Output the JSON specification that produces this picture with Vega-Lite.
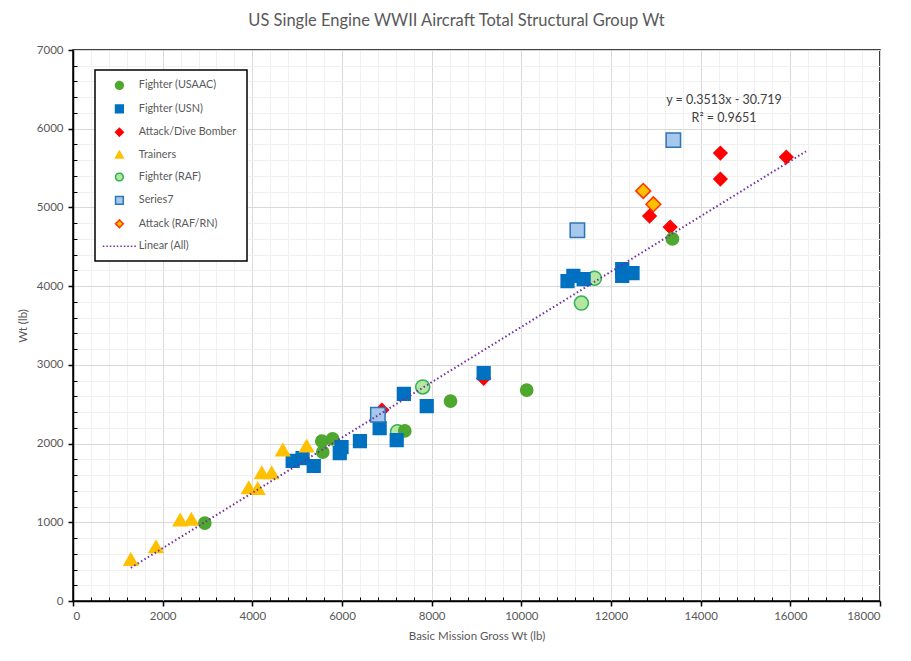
{
  "$schema": "https://vega.github.io/schema/vega-lite/v6.json",
  "width": 807,
  "height": 551,
  "autosize": "none",
  "padding": {"left": 73, "top": 50, "right": 31, "bottom": 60},
  "background": "white",
  "title": {
    "text": "US Single Engine WWII Aircraft Total Structural Group Wt",
    "font": "Lato",
    "fontSize": 16.5,
    "fontWeight": "normal",
    "color": "#595959",
    "anchor": "middle",
    "dx": -20,
    "offset": 15
  },
  "datasets": {
    "pts": [
      {"series": "Fighter (USAAC)", "x": 2940, "y": 990},
      {"series": "Fighter (USAAC)", "x": 5550, "y": 2030},
      {"series": "Fighter (USAAC)", "x": 5790, "y": 2060},
      {"series": "Fighter (USAAC)", "x": 5570, "y": 1890},
      {"series": "Fighter (USAAC)", "x": 7400, "y": 2160},
      {"series": "Fighter (USAAC)", "x": 8420, "y": 2540},
      {"series": "Fighter (USAAC)", "x": 10120, "y": 2680},
      {"series": "Fighter (USAAC)", "x": 13370, "y": 4600},
      {"series": "Fighter (USN)", "x": 4900, "y": 1780},
      {"series": "Fighter (USN)", "x": 5120, "y": 1815},
      {"series": "Fighter (USN)", "x": 5370, "y": 1715},
      {"series": "Fighter (USN)", "x": 5990, "y": 1955},
      {"series": "Fighter (USN)", "x": 5950, "y": 1880},
      {"series": "Fighter (USN)", "x": 6400, "y": 2030},
      {"series": "Fighter (USN)", "x": 6840, "y": 2195},
      {"series": "Fighter (USN)", "x": 7220, "y": 2045},
      {"series": "Fighter (USN)", "x": 7380, "y": 2630},
      {"series": "Fighter (USN)", "x": 7890, "y": 2475},
      {"series": "Fighter (USN)", "x": 9160, "y": 2895},
      {"series": "Fighter (USN)", "x": 11030, "y": 4065},
      {"series": "Fighter (USN)", "x": 11160, "y": 4130},
      {"series": "Fighter (USN)", "x": 11390, "y": 4090},
      {"series": "Fighter (USN)", "x": 12250, "y": 4215},
      {"series": "Fighter (USN)", "x": 12250, "y": 4130},
      {"series": "Fighter (USN)", "x": 12480, "y": 4165},
      {"series": "Attack/Dive Bomber", "x": 6890, "y": 2425},
      {"series": "Attack/Dive Bomber", "x": 9160, "y": 2830},
      {"series": "Attack/Dive Bomber", "x": 12860, "y": 4890},
      {"series": "Attack/Dive Bomber", "x": 13320, "y": 4750},
      {"series": "Attack/Dive Bomber", "x": 14440, "y": 5360},
      {"series": "Attack/Dive Bomber", "x": 14440, "y": 5690},
      {"series": "Attack/Dive Bomber", "x": 15910, "y": 5640},
      {"series": "Trainers", "x": 1290, "y": 530},
      {"series": "Trainers", "x": 1850, "y": 690},
      {"series": "Trainers", "x": 2390, "y": 1030},
      {"series": "Trainers", "x": 2640, "y": 1040},
      {"series": "Trainers", "x": 3920, "y": 1440},
      {"series": "Trainers", "x": 4120, "y": 1430},
      {"series": "Trainers", "x": 4210, "y": 1630},
      {"series": "Trainers", "x": 4430, "y": 1630},
      {"series": "Trainers", "x": 4680, "y": 1920},
      {"series": "Trainers", "x": 5210, "y": 1970},
      {"series": "Fighter (RAF)", "x": 11630, "y": 4100},
      {"series": "Fighter (RAF)", "x": 11340, "y": 3785},
      {"series": "Fighter (RAF)", "x": 7800, "y": 2720},
      {"series": "Fighter (RAF)", "x": 7240, "y": 2150},
      {"series": "Series7", "x": 6800, "y": 2365},
      {"series": "Series7", "x": 11250, "y": 4710},
      {"series": "Series7", "x": 13390, "y": 5855},
      {"series": "Attack (RAF/RN)", "x": 12720, "y": 5210},
      {"series": "Attack (RAF/RN)", "x": 12945, "y": 5040}
    ],
    "trend": [
      {"series": "Linear (All)", "x": 1290, "y": 422},
      {"series": "Linear (All)", "x": 16350, "y": 5713}
    ],
    "note": [
      {"label": "y = 0.3513x - 30.719\nR² = 0.9651", "x": 14520, "y": 6360}
    ]
  },
  "layer": [
    {
      "data": {"name": "pts"},
      "mark": {"type": "point", "filled": true, "strokeWidth": 1.5, "opacity": 1},
      "encoding": {
        "x": {
          "field": "x", "type": "quantitative",
          "scale": {"domain": [0, 18000], "nice": false},
          "axis": {
            "title": "Basic Mission Gross Wt (lb)",
            "values": [0, 2000, 4000, 6000, 8000, 10000, 12000, 14000, 16000, 18000],
            "format": "d",
            "grid": true, "gridColor": "#D9D9D9",
            "domainColor": "#000000", "domainWidth": 1.5,
            "tickColor": "#000000", "tickSize": 5, "tickWidth": 1.5,
            "labelPadding": 4, "titlePadding": 9
          }
        },
        "y": {
          "field": "y", "type": "quantitative",
          "scale": {"domain": [0, 7000], "nice": false},
          "axis": {
            "title": "Wt (lb)",
            "values": [0, 1000, 2000, 3000, 4000, 5000, 6000, 7000],
            "format": "d",
            "grid": true, "gridColor": "#D9D9D9",
            "domainColor": "#000000", "domainWidth": 1.5,
            "tickColor": "#000000", "tickSize": 5, "tickWidth": 1.5,
            "labelPadding": 5, "titlePadding": 8
          }
        },
        "shape": {
          "field": "series", "type": "nominal",
          "scale": {
            "domain": ["Fighter (USAAC)", "Fighter (USN)", "Attack/Dive Bomber", "Trainers", "Fighter (RAF)", "Series7", "Attack (RAF/RN)", "Linear (All)"],
            "range": ["circle", "square", "diamond", "triangle-up", "circle", "square", "diamond", "stroke"]
          },
          "legend": {
            "encode": {
              "symbols": {
                "update": {
                  "strokeDash": {"signal": "datum.value === 'Linear (All)' ? [1.5, 2] : [1, 0]"},
                  "size": {"signal": "datum.value === 'Linear (All)' ? 1100 : 60"}
                }
              }
            }
          }
        },
        "fill": {
          "field": "series", "type": "nominal",
          "scale": {
            "domain": ["Fighter (USAAC)", "Fighter (USN)", "Attack/Dive Bomber", "Trainers", "Fighter (RAF)", "Series7", "Attack (RAF/RN)", "Linear (All)"],
            "range": ["#4EA72E", "#0070C0", "#FF0000", "#FFC000", "#B5E6A2", "#A6C8EC", "#FFC000", "transparent"]
          },
          "legend": {
            "encode": {
              "symbols": {
                "update": {
                  "strokeDash": {"signal": "datum.value === 'Linear (All)' ? [1.5, 2] : [1, 0]"},
                  "size": {"signal": "datum.value === 'Linear (All)' ? 1100 : 60"}
                }
              }
            }
          }
        },
        "stroke": {
          "field": "series", "type": "nominal",
          "scale": {
            "domain": ["Fighter (USAAC)", "Fighter (USN)", "Attack/Dive Bomber", "Trainers", "Fighter (RAF)", "Series7", "Attack (RAF/RN)", "Linear (All)"],
            "range": ["#4EA72E", "#0070C0", "#FF0000", "#FFC000", "#2FB355", "#2E75B6", "#FF3300", "#7030A0"]
          },
          "legend": {
            "encode": {
              "symbols": {
                "update": {
                  "strokeDash": {"signal": "datum.value === 'Linear (All)' ? [1.5, 2] : [1, 0]"},
                  "size": {"signal": "datum.value === 'Linear (All)' ? 1100 : 60"}
                }
              }
            }
          }
        },
        "size": {
          "field": "series", "type": "nominal", "legend": null,
          "scale": {
            "domain": ["Fighter (USAAC)", "Fighter (USN)", "Attack/Dive Bomber", "Trainers", "Fighter (RAF)", "Series7", "Attack (RAF/RN)"],
            "range": [150, 220, 130, 240, 160, 200, 120]
          }
        },
        "order": {"field": "series", "sort": "ascending"}
      }
    },
    {
      "data": {"name": "trend"},
      "mark": {"type": "line", "strokeDash": [1.5, 2.5], "strokeWidth": 2},
      "encoding": {
        "x": {
          "field": "x", "type": "quantitative",
          "scale": {"domain": [0, 18000], "nice": false},
          "axis": {
            "orient": "bottom", "title": null, "labels": false, "domain": false,
            "values": [400, 800, 1200, 1600, 2400, 2800, 3200, 3600, 4400, 4800, 5200, 5600, 6400, 6800, 7200, 7600, 8400, 8800, 9200, 9600, 10400, 10800, 11200, 11600, 12400, 12800, 13200, 13600, 14400, 14800, 15200, 15600, 16400, 16800, 17200, 17600],
            "grid": true, "gridColor": "#F0F0F0",
            "tickColor": "#000000", "tickSize": -4, "tickWidth": 1
          }
        },
        "y": {
          "field": "y", "type": "quantitative",
          "scale": {"domain": [0, 7000], "nice": false},
          "axis": {
            "orient": "left", "title": null, "labels": false, "domain": false,
            "values": [200, 400, 600, 800, 1200, 1400, 1600, 1800, 2200, 2400, 2600, 2800, 3200, 3400, 3600, 3800, 4200, 4400, 4600, 4800, 5200, 5400, 5600, 5800, 6200, 6400, 6600, 6800],
            "grid": true, "gridColor": "#F0F0F0",
            "tickColor": "#000000", "tickSize": -4, "tickWidth": 1
          }
        },
        "stroke": {
          "field": "series", "type": "nominal",
          "legend": {
            "encode": {
              "symbols": {
                "update": {
                  "strokeDash": {"signal": "datum.value === 'Linear (All)' ? [1.5, 2] : [1, 0]"},
                  "size": {"signal": "datum.value === 'Linear (All)' ? 1100 : 60"}
                }
              }
            }
          }
        }
      }
    },
    {
      "data": {"name": "note"},
      "mark": {"type": "text", "font": "Lato", "fontSize": 12.5, "color": "#404040", "lineBreak": "\n", "align": "center", "baseline": "middle", "lineHeight": 18},
      "encoding": {
        "x": {"field": "x", "type": "quantitative", "axis": null},
        "y": {"field": "y", "type": "quantitative", "axis": null},
        "text": {"field": "label"}
      }
    }
  ],
  "resolve": {"axis": {"x": "independent", "y": "independent"}},
  "config": {
    "view": {"stroke": "#000000", "strokeWidth": 1.5},
    "axis": {
      "labelFont": "Lato", "labelFontSize": 11.5, "labelColor": "#595959",
      "titleFont": "Lato", "titleFontSize": 11.5, "titleColor": "#595959", "titleFontWeight": "normal"
    },
    "legend": {
      "title": null,
      "orient": "none",
      "legendX": 22,
      "legendY": 20,
      "strokeColor": "#000000",
      "strokeWidth": 1.5,
      "fillColor": "#FFFFFF",
      "padding": 10,
      "symbolSize": 60,
      "symbolStrokeWidth": 1.5,
      "symbolOffset": 9,
      "labelOffset": 14,
      "rowPadding": 8.4,
      "labelFont": "Lato",
      "labelFontSize": 10.8,
      "labelColor": "#595959",
      "labelLimit": 200
    }
  }
}
